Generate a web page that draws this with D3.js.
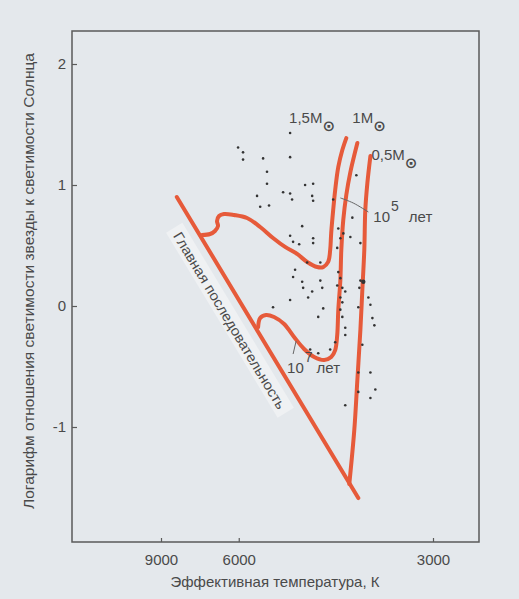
<!DOCTYPE html>
<html>
<head>
<meta charset="utf-8">
<script src="https://cdn.jsdelivr.net/npm/d3@7"></script>
<style>
body { margin: 0; background: #e4e8ec; }
svg { display: block; font-family: "Liberation Sans", Arial, sans-serif; }
</style>
</head>
<body>
<svg id="chart"></svg>
<script>
// Configuration
const width = 519;
const height = 599;
const margin = {top: 31, right: 40, bottom: 57, left: 72};
const red = "#e65a3a";
const ink = "#4a4a4a";

// Axis ticks
const tempTicks = [9000, 6000, 3000];
const lumTicks = [2, 1, 0, -1];

// [temperature K, log L/Lsun]
const mainSequence = [[8210, 0.901], [3774, -1.587]];

const track15 = [
    [7168, 0.587], [6880, 0.595], [6715, 0.620], [6615, 0.661], [6648, 0.702],
    [6582, 0.744], [6428, 0.760], [6132, 0.752], [5781, 0.727], [5458, 0.653],
    [5172, 0.562], [4925, 0.488], [4698, 0.430], [4522, 0.364], [4356, 0.322],
    [4262, 0.322], [4187, 0.364], [4157, 0.463], [4142, 0.603], [4113, 0.793],
    [4084, 0.959], [4040, 1.149], [3984, 1.289], [3930, 1.388]
];

const track10 = [
    [5507, -0.174], [5458, -0.099], [5325, -0.074], [5150, -0.091], [4944, -0.149],
    [4754, -0.256], [4574, -0.355], [4405, -0.421], [4247, -0.446], [4142, -0.421],
    [4084, -0.364], [4055, -0.240], [4040, -0.033], [4011, 0.215], [3998, 0.463],
    [3971, 0.711], [3930, 0.917], [3876, 1.107], [3786, 1.347]
];

const track05 = [
    [3890, -1.471], [3825, -1.025], [3786, -0.612], [3748, -0.198], [3724, 0.132],
    [3700, 0.463], [3688, 0.793], [3663, 1.017], [3627, 1.240]
];

const stars = [
    [4828, 1.43], [6018, 1.31], [5884, 1.27], [5884, 1.21], [5391, 1.22], [4828, 1.23],
    [5303, 1.11], [5303, 1.01], [4557, 1.00], [4422, 1.01], [4964, 0.94], [4828, 0.93],
    [5532, 0.91], [4791, 0.88], [4438, 0.91], [4422, 0.87], [5458, 0.82], [5258, 0.83],
    [4113, 0.88], [3799, 1.08],
    [4608, 0.66], [4828, 0.58], [4772, 0.53], [4661, 0.51], [4422, 0.56], [4422, 0.52],
    [3850, 0.73], [3876, 0.57], [4040, 0.64], [4011, 0.56], [3970, 0.60], [3748, 0.52],
    [4055, 0.48], [4307, 0.36], [4522, 0.36], [4735, 0.30], [4772, 0.24], [4608, 0.20],
    [4591, 0.15], [4307, 0.21], [4277, 0.15], [4438, 0.12], [4505, 0.07], [4828, 0.05],
    [4262, -0.02], [4340, -0.09], [4040, 0.28], [4011, 0.23], [4055, 0.17], [3984, 0.15],
    [3944, 0.12], [4011, 0.07], [3984, 0.03], [4011, -0.03], [3984, -0.09], [3944, -0.18],
    [3944, -0.24], [4084, -0.30], [4157, -0.36], [4340, -0.39], [4471, -0.36], [3748, 0.21],
    [3761, 0.15], [3651, 0.07], [3627, 0.01], [3604, -0.10], [3581, -0.16], [3774, -0.01],
    [3724, -0.32], [3774, -0.55], [3627, -0.55], [3774, -0.71], [3570, -0.69], [5172, -0.01],
    [3944, -0.82], [3627, -0.76]
];
const brightStars = [[3712, 0.20]];

// Annotations
const massLabels = [
    {text: "1,5M", T: 4847, L: 1.512},
    {text: "1M", T: 3850, L: 1.512},
    {text: "0,5M", T: 3615, L: 1.207}
];
const ageLabels = [
    {base: "10", exp: "5", unit: "лет", T: 3593, L: 0.694, gap: 10},
    {base: "10", exp: "7", unit: "лет", T: 4886, L: -0.554, gap: 4}
];
const leaders = [
    [[4011, 0.893], [3838, 0.851], [3651, 0.777]],
    [[4716, -0.289], [4772, -0.397]]
];
const msLabel = {text: "Главная последовательность", T: 6260, L: -0.120};

// SVG setup
const svg = d3.select("#chart")
    .attr("width", width)
    .attr("height", height);

svg.append("rect")
    .attr("width", width)
    .attr("height", height)
    .attr("fill", "#e4e8ec");

// Scales (temperature axis is compressed like the original print)
const x = d3.scalePow()
    .exponent(-0.68)
    .domain([9000, 3000])
    .range([161, 433]);

const y = d3.scaleLinear()
    .domain([-1, 1])
    .range([427, 185]);

const bottom = height - margin.bottom;

// Frame
svg.append("rect")
    .attr("x", margin.left)
    .attr("y", margin.top)
    .attr("width", width - margin.left - margin.right)
    .attr("height", height - margin.top - margin.bottom)
    .attr("fill", "none")
    .attr("stroke", "#5a5a5a")
    .attr("stroke-width", 1.5);

// Axes
const xAxis = svg.append("g")
    .attr("transform", `translate(0,${bottom})`)
    .call(d3.axisBottom(x).tickValues(tempTicks).tickSize(-4).tickPadding(12).tickFormat(d => String(d)));

const yAxis = svg.append("g")
    .attr("transform", `translate(${margin.left},0)`)
    .call(d3.axisLeft(y).tickValues(lumTicks).tickSize(-5).tickPadding(6).tickFormat(d => String(d)));

[xAxis, yAxis].forEach(a => {
    a.select(".domain").remove();
    a.selectAll(".tick line").attr("stroke", "#5a5a5a").attr("stroke-width", 1.2);
    a.selectAll(".tick text")
        .attr("fill", ink)
        .style("font-size", "15px")
        .style("font-family", "'Liberation Sans', Arial, sans-serif");
});

// Axis titles
svg.append("text")
    .attr("x", 275)
    .attr("y", 587)
    .attr("text-anchor", "middle")
    .attr("fill", ink)
    .style("font-size", "15px")
    .text("Эффективная температура, К");

svg.append("text")
    .attr("transform", "translate(34,281) rotate(-90)")
    .attr("text-anchor", "middle")
    .attr("fill", ink)
    .style("font-size", "15px")
    .attr("textLength", 456)
    .attr("lengthAdjust", "spacingAndGlyphs")
    .text("Логарифм отношения светимости звезды к светимости Солнца");

// Main-sequence label on a light strip
const p0 = [x(mainSequence[0][0]), y(mainSequence[0][1])];
const p1 = [x(mainSequence[1][0]), y(mainSequence[1][1])];
const angle = Math.atan2(p1[1] - p0[1], p1[0] - p0[0]) * 180 / Math.PI;

const msG = svg.append("g")
    .attr("transform", `translate(${x(msLabel.T)},${y(msLabel.L)}) rotate(${angle})`);
msG.append("rect")
    .attr("x", -108)
    .attr("y", -10)
    .attr("width", 216)
    .attr("height", 19)
    .attr("fill", "#eff1f3");
msG.append("text")
    .attr("text-anchor", "middle")
    .attr("dy", "0.35em")
    .attr("fill", ink)
    .style("font-size", "14px")
    .attr("textLength", 204)
    .attr("lengthAdjust", "spacingAndGlyphs")
    .text(msLabel.text);

// Tracks
const straight = d3.line().x(d => x(d[0])).y(d => y(d[1]));
const smooth = d3.line().x(d => x(d[0])).y(d => y(d[1])).curve(d3.curveCatmullRom.alpha(0.5));

svg.append("path")
    .attr("d", straight(mainSequence))
    .attr("fill", "none")
    .attr("stroke", red)
    .attr("stroke-width", 4)
    .attr("stroke-linecap", "round");

[track15, track10, track05].forEach(track => {
    svg.append("path")
        .attr("d", smooth(track))
        .attr("fill", "none")
        .attr("stroke", red)
        .attr("stroke-width", 4)
        .attr("stroke-linecap", "round")
        .attr("stroke-linejoin", "round");
});

// Stars
svg.append("g")
    .selectAll("circle")
    .data(stars)
    .join("circle")
    .attr("cx", d => x(d[0]))
    .attr("cy", d => y(d[1]))
    .attr("r", 1.3)
    .attr("fill", "#333");

svg.append("g")
    .selectAll("circle")
    .data(brightStars)
    .join("circle")
    .attr("cx", d => x(d[0]))
    .attr("cy", d => y(d[1]))
    .attr("r", 2.2)
    .attr("fill", "#333");

// Leader lines
leaders.forEach(l => {
    svg.append("path")
        .attr("d", smooth(l))
        .attr("fill", "none")
        .attr("stroke", "#666")
        .attr("stroke-width", 1);
});

// Mass labels with solar symbol
massLabels.forEach(m => {
    const t = svg.append("text")
        .attr("x", x(m.T))
        .attr("y", y(m.L))
        .attr("fill", ink)
        .style("font-size", "15px");
    t.append("tspan").text(m.text);
    t.append("tspan")
        .attr("dx", 0)
        .attr("dy", 8)
        .style("font-size", "15px")
        .style("font-weight", "bold")
        .style("font-family", "'DejaVu Sans', sans-serif")
        .text("⊙");
});

// Age labels
ageLabels.forEach(a => {
    const t = svg.append("text")
        .attr("x", x(a.T))
        .attr("y", y(a.L))
        .attr("fill", ink)
        .style("font-size", "15px");
    t.append("tspan").text(a.base);
    t.append("tspan")
        .attr("dx", 1)
        .attr("dy", -11)
        .style("font-size", "14px")
        .text(a.exp);
    t.append("tspan")
        .attr("dx", a.gap)
        .attr("dy", 11)
        .text(a.unit);
});
</script>
</body>
</html>
